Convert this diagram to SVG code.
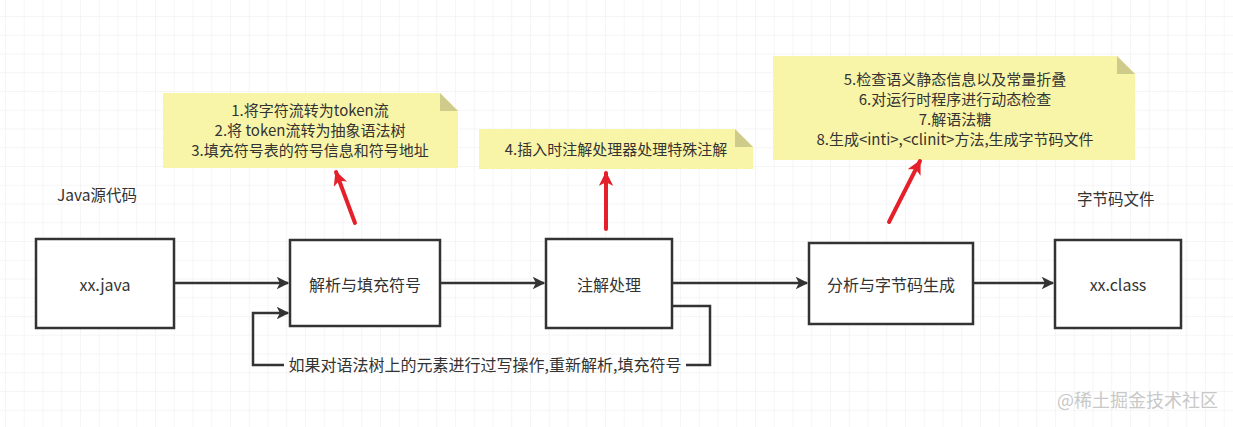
<svg xmlns="http://www.w3.org/2000/svg" width="1233" height="427" viewBox="0 0 1233 427">
<defs>
<pattern id="grid" x="5" y="16" width="18.75" height="18.75" patternUnits="userSpaceOnUse">
<path d="M0 0H18.75M0 0V18.75" fill="none" stroke="#ececec" stroke-width="1"/>
</pattern>
<marker id="ah" viewBox="0 0 10 10" refX="9" refY="5" markerWidth="5.5" markerHeight="5" orient="auto" markerUnits="strokeWidth">
<path d="M0 0L10 5L0 10L2.5 5Z" fill="#333"/>
</marker>
<marker id="rh" viewBox="0 0 10 10" refX="9" refY="5" markerWidth="4" markerHeight="3.6" orient="auto" markerUnits="strokeWidth">
<path d="M0 0L10 5L0 10L2.5 5Z" fill="#e5202b"/>
</marker>
</defs>
<style>
text{font-family:"Noto Sans CJK SC","Microsoft YaHei",sans-serif;fill:#333;}
.box{fill:#fff;stroke:#333;stroke-width:2.5;}
.lbl{font-size:16px;text-anchor:middle;dominant-baseline:central;}
.note{fill:#f8f5a8;}
.fold{fill:#cfcb8b;}
.nt{font-size:15px;text-anchor:middle;}
.conn{fill:none;stroke:#333;stroke-width:2.5;}
.red{fill:none;stroke:#e5202b;stroke-width:4;stroke-linecap:round;}
</style>
<rect width="1233" height="427" fill="#fff"/>
<rect width="1233" height="427" fill="url(#grid)"/>

<g id="note1">
<path class="note" d="M163 93H440L458 111V168H163Z"/>
<path class="fold" d="M440 93L458 111H440Z"/>
<text class="nt" x="310" y="116">1.将字符流转为token流</text>
<text class="nt" x="310" y="136">2.将 token流转为抽象语法树</text>
<text class="nt" x="310" y="156">3.填充符号表的符号信息和符号地址</text>
</g>
<g id="note2">
<path class="note" d="M479 129H735L753 147V169H479Z"/>
<path class="fold" d="M735 129L753 147H735Z"/>
<text class="nt" x="616" y="155">4.插入时注解处理器处理特殊注解</text>
</g>
<g id="note3">
<path class="note" d="M773 56H1117L1135 74V160H773Z"/>
<path class="fold" d="M1117 56L1135 74H1117Z"/>
<text class="nt" x="955" y="85">5.检查语义静态信息以及常量折叠</text>
<text class="nt" x="955" y="105">6.对运行时程序进行动态检查</text>
<text class="nt" x="955" y="125">7.解语法糖</text>
<text class="nt" x="955" y="145">8.生成&lt;inti&gt;,&lt;clinit&gt;方法,生成字节码文件</text>
</g>

<g id="label-src"><text x="57" y="201" font-size="15.5">Java源代码</text></g>
<g id="label-class"><text x="1077" y="205" font-size="15.5">字节码文件</text></g>

<g id="connectors">
<path class="conn" d="M174 283H288" marker-end="url(#ah)"/>
<path class="conn" d="M440 283H544" marker-end="url(#ah)"/>
<path class="conn" d="M672 283H807" marker-end="url(#ah)"/>
<path class="conn" d="M973 283H1053" marker-end="url(#ah)"/>
<path class="conn" d="M672 306H710V365H686"/>
<path class="conn" d="M284 365H253V313H288" marker-end="url(#ah)"/>
<path class="red" d="M355 223L336 172" marker-end="url(#rh)"/>
<path class="red" d="M606 229V173" marker-end="url(#rh)"/>
<path class="red" d="M889 222L920 161" marker-end="url(#rh)"/>
<text x="485" y="371" font-size="16" text-anchor="middle">如果对语法树上的元素进行过写操作,重新解析,填充符号</text>
</g>

<g id="n-java"><rect class="box" x="36" y="239" width="138" height="89"/><text class="lbl" x="105" y="284">xx.java</text></g>
<g id="n-parse"><rect class="box" x="290" y="240" width="150" height="86"/><text class="lbl" x="365" y="284">解析与填充符号</text></g>
<g id="n-anno"><rect class="box" x="546" y="239" width="126" height="89"/><text class="lbl" x="609" y="284">注解处理</text></g>
<g id="n-gen"><rect class="box" x="809" y="243" width="164" height="81"/><text class="lbl" x="891" y="284">分析与字节码生成</text></g>
<g id="n-class"><rect class="box" x="1055" y="240" width="126" height="88"/><text class="lbl" x="1118" y="284">xx.class</text></g>

<text x="1218" y="407" font-size="18" text-anchor="end" style="fill:#c8c8c8">@稀土掘金技术社区</text>
</svg>
